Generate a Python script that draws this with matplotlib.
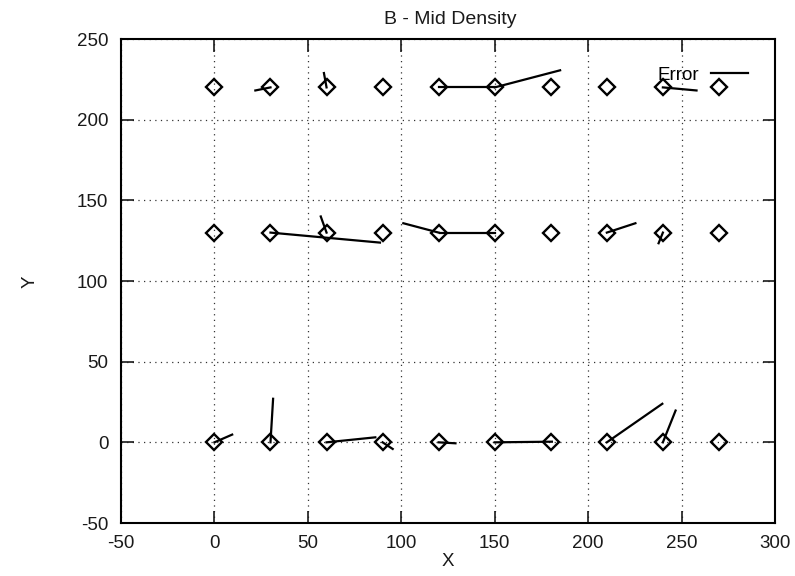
import matplotlib
matplotlib.use("Agg")
import matplotlib.pyplot as plt

plt.rcParams['font.family'] = ['Liberation Sans', 'DejaVu Sans']
plt.rcParams['axes.unicode_minus'] = False

# grid points
point_x = [0, 30, 60, 90, 120, 150, 180, 210, 240, 270]
row_y = [0, 130, 220]

# error vector endpoints for each row (same order as point_x)
end_x_row0 = [9.5, 31.4, 86.1, 95.4, 129.0, 180.6, 180, 239.7, 246.8, 270]
end_y_row0 = [4.8, 27.0, 3.1, -4.1, -0.6, 0.4, 0, 23.9, 19.7, 0]
end_x_row130 = [0, 88.6, 56.9, 90, 101.1, 120.5, 180, 225.3, 237.7, 270]
end_y_row130 = [130, 123.8, 140.0, 130, 135.8, 130, 130, 135.8, 123.4, 130]
end_x_row220 = [0, 21.9, 58.6, 90, 150, 185.0, 180, 210, 258.0, 270]
end_y_row220 = [220, 218.1, 228.9, 220, 220, 230.6, 220, 220, 218.1, 220]

ends = {0: (end_x_row0, end_y_row0),
        130: (end_x_row130, end_y_row130),
        220: (end_x_row220, end_y_row220)}

title = "B - Mid Density"
xticks = [-50, 0, 50, 100, 150, 200, 250, 300]
yticks = [-50, 0, 50, 100, 150, 200, 250]

fig = plt.figure(figsize=(7.95, 5.76), dpi=100)
ax = fig.add_axes([121 / 795, 1 - 523 / 576, (775 - 121) / 795, (523 - 39) / 576])

first = True
for ry in row_y:
    ex, ey = ends[ry]
    for px, x1, y1 in zip(point_x, ex, ey):
        if x1 == px and y1 == ry:
            continue
        ax.plot([px, x1], [ry, y1], color='black', lw=1.6,
                label='Error' if first else None, zorder=3)
        first = False
    ax.plot(point_x, [ry] * len(point_x), linestyle='none', marker='D',
            markersize=7.8, markerfacecolor='none', markeredgecolor='black',
            markeredgewidth=1.7, zorder=4)

ax.set_xlim(-50, 300)
ax.set_ylim(-50, 250)
ax.set_xticks(xticks)
ax.set_yticks(yticks)
ax.grid(True, color='black', linestyle=(0, (1, 3.5)), lw=0.9, alpha=0.8)
ax.tick_params(direction='in', length=9, width=1.2, top=True, right=True,
               labelsize=13.5, pad=9, colors='#1a1a1a')
for s in ax.spines.values():
    s.set_linewidth(1.5)

fig.text(450 / 795, 1 - 20 / 576, title, ha='center', va='center', fontsize=14,
         color='#1a1a1a')
fig.text(448 / 795, 1 - 561 / 576, 'X', ha='center', va='center', fontsize=13.5,
         color='#1a1a1a')
fig.text(30 / 795, 1 - 282 / 576, 'Y', ha='center', va='center', fontsize=13.5,
         rotation=90, color='#1a1a1a')

leg = ax.legend(loc='upper right', bbox_to_anchor=(0.9587, 0.943), frameon=False,
                markerfirst=False, handlelength=1.95, handletextpad=0.65,
                fontsize=13.5, borderaxespad=0, borderpad=0)

fig.savefig('out.png', dpi=100)
